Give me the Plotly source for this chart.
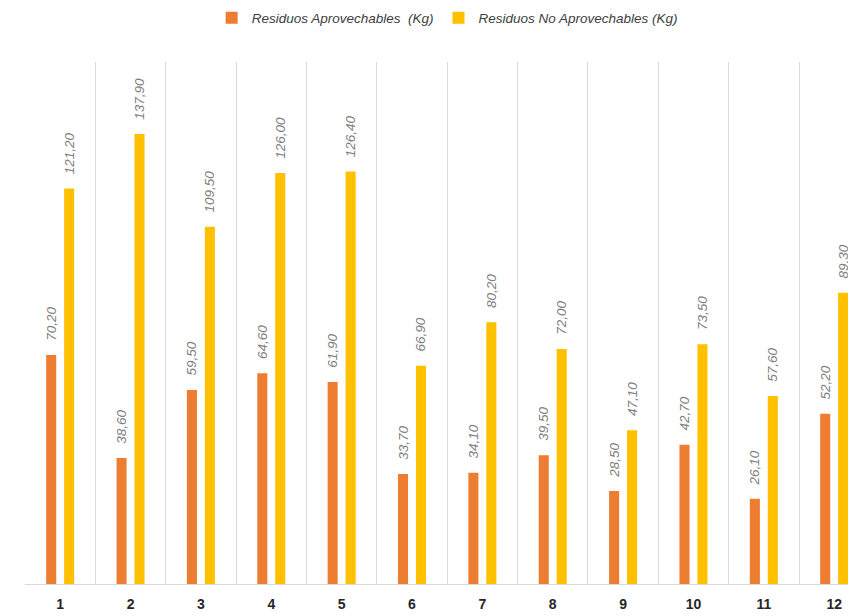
import plotly.graph_objects as go

categories = ["1", "2", "3", "4", "5", "6", "7", "8", "9", "10", "11", "12"]
aprovechables = [70.20, 38.60, 59.50, 64.60, 61.90, 33.70, 34.10, 39.50, 28.50, 42.70, 26.10, 52.20]
no_aprovechables = [121.20, 137.90, 109.50, 126.00, 126.40, 66.90, 80.20, 72.00, 47.10, 73.50, 57.60, 89.30]
series_names = ["Residuos Aprovechables  (Kg)", "Residuos No Aprovechables (Kg)"]

FONT = "Liberation Sans Narrow, Arial Narrow, Liberation Sans, Arial, sans-serif"
label_font = dict(family="Liberation Sans, Arial, sans-serif", size=13.5, color="#808080", style="italic")

NBSP = "\u00a0"
fig = go.Figure()
for name, vals, col in [(series_names[0], aprovechables, "#ED7D31"),
                        (series_names[1], no_aprovechables, "#FFC000")]:
    fig.add_trace(go.Bar(
        x=categories, y=vals, name=name,
        marker=dict(color=col, line=dict(width=0)),
        texttemplate=NBSP * 3 + "%{y:.2f}", textposition="outside", textangle=-90,
        textfont=label_font, cliponaxis=False, constraintext="none",
    ))

# page body has an 8px default margin; size the figure to compensate
fig.update_layout(
    width=848, height=608,
    margin=dict(l=17, r=0, t=54, b=32, autoexpand=False),
    paper_bgcolor="white", plot_bgcolor="white",
    separators=",.",
    barmode="group", bargap=0.49, bargroupgap=0.44,
    showlegend=True,
    legend=dict(orientation="h", x=0.508, xanchor="center", yref="container",
                y=1 - 10 / 608, yanchor="middle",
                font=dict(family=FONT, size=13.5, color="#404040", style="italic"),
                itemwidth=30, traceorder="normal"),
    xaxis=dict(type="category", range=[-0.5, 11.31], tickson="boundaries",
               showgrid=True, gridcolor="#d9d9d9", gridwidth=1,
               showline=True, linecolor="#d9d9d9", linewidth=1,
               ticks="", automargin=False, ticklabelstandoff=7,
               tickfont=dict(family=FONT, size=14, color="#262626", weight="bold")),
    yaxis=dict(range=[0, 160], showgrid=False, showticklabels=False, zeroline=False,
               showline=False, ticks="", automargin=False),
)

fig.write_html("out.html")
